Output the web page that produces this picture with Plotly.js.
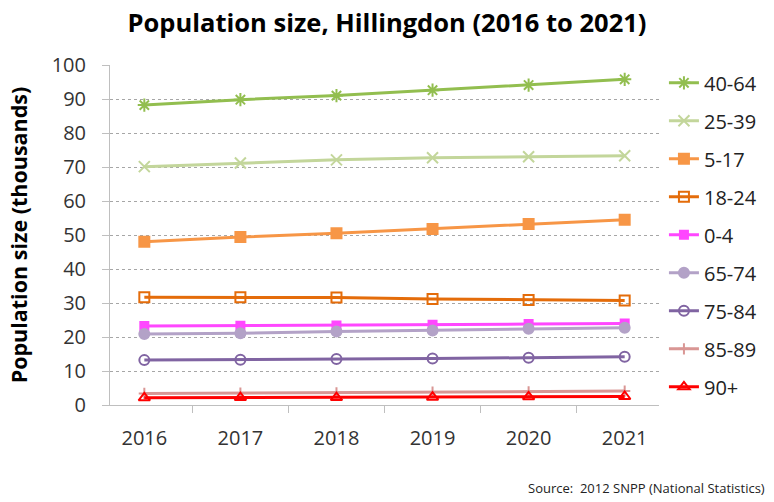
<!DOCTYPE html>
<html>
<head>
<meta charset="utf-8">
<script src="https://cdn.plot.ly/plotly-3.0.1.min.js"></script>
<style>html,body{margin:0;padding:0;background:#fff;}#chart{width:774px;height:502px;}</style>
</head>
<body>
<div id="chart"></div>
<script>
const years = ['2016', '2017', '2018', '2019', '2020', '2021'];
const seriesNames = ['40-64', '25-39', '5-17', '18-24', '0-4', '65-74', '75-84', '85-89', '90+'];
const age40_64 = [88.2, 89.8, 91.0, 92.6, 94.1, 95.8];
const age25_39 = [70.1, 71.2, 72.1, 72.7, 73.0, 73.3];
const age5_17 = [48.0, 49.4, 50.5, 51.8, 53.2, 54.5];
const age18_24 = [31.7, 31.7, 31.6, 31.2, 30.9, 30.7];
const age0_4 = [23.2, 23.3, 23.4, 23.6, 23.8, 24.0];
const age65_74 = [20.9, 21.1, 21.6, 21.9, 22.4, 22.7];
const age75_84 = [13.2, 13.3, 13.5, 13.7, 13.9, 14.2];
const age85_89 = [3.4, 3.5, 3.6, 3.8, 3.9, 4.1];
const age90plus = [2.1, 2.2, 2.2, 2.3, 2.4, 2.5];

const values = [age40_64, age25_39, age5_17, age18_24, age0_4, age65_74, age75_84, age85_89, age90plus];
const colors = ['#92BE4F', '#C3D69B', '#F79646', '#E46C0A', '#FF47FF', '#B3A2C7', '#8064A2', '#D99694', '#FF0000'];
const symbols = ['asterisk-open', 'x-thin-open', 'square', 'square-open', 'square', 'circle', 'circle-open', 'cross-thin-open', 'triangle-up-open'];
const sizes = [11, 11, 10, 10, 8, 10, 10, 8, 10];

const font = 'Open Sans, Noto Sans, sans-serif';

const traces = seriesNames.map((name, i) => ({
  type: 'scatter',
  mode: 'lines+markers',
  name: name,
  x: years,
  y: values[i],
  legendgroup: 'g' + i,
  line: {color: colors[i], width: 3},
  marker: {symbol: symbols[i], size: sizes[i], color: colors[i], line: {color: colors[i], width: 2}}
}));

const layout = {
  width: 774,
  height: 502,
  margin: {l: 110, r: 106, t: 65, b: 97},
  paper_bgcolor: '#fff',
  plot_bgcolor: '#fff',
  title: {text: '<b>Population size, Hillingdon (2016 to 2021)</b>', font: {family: font, size: 25.5, color: '#000'}, x: 0.5, xanchor: 'center', y: 0.955, yanchor: 'middle'},
  xaxis: {
    type: 'category',
    tickson: 'boundaries',
    ticks: 'outside', ticklen: 7, tickcolor: '#BFBFBF',
    showline: true, linecolor: '#BFBFBF', linewidth: 1,
    showgrid: false, zeroline: false,
    tickfont: {family: font, size: 20, color: '#333'},
    ticklabelstandoff: 15,
    fixedrange: true
  },
  yaxis: {
    range: [0, 100],
    dtick: 10,
    ticks: 'outside', ticklen: 7, tickcolor: '#BFBFBF',
    showline: true, linecolor: '#BFBFBF', linewidth: 1,
    showgrid: true, gridcolor: '#A6A6A6', griddash: 'dot', gridwidth: 1,
    zeroline: false,
    tickfont: {family: font, size: 20, color: '#333'},
    ticklabelstandoff: 12,
    title: {text: '<b>Population size (thousands)</b>', font: {family: font, size: 21.5, color: '#000'}, standoff: 18},
    fixedrange: true
  },
  legend: {
    x: 1.009, xanchor: 'left', y: 1.005, yanchor: 'top',
    font: {family: font, size: 20, color: '#222'},
    tracegroupgap: 9,
    itemwidth: 30,
    maxheight: 480,
    bgcolor: 'rgba(0,0,0,0)'
  },
  annotations: [{
    text: 'Source:  2012 SNPP (National Statistics)',
    xref: 'paper', yref: 'paper', x: 1.197, y: -0.244, xanchor: 'right', yanchor: 'middle',
    showarrow: false, font: {family: font, size: 13, color: '#222'}
  }]
};

Plotly.newPlot('chart', traces, layout, {displayModeBar: false, staticPlot: true});
</script>
</body>
</html>
